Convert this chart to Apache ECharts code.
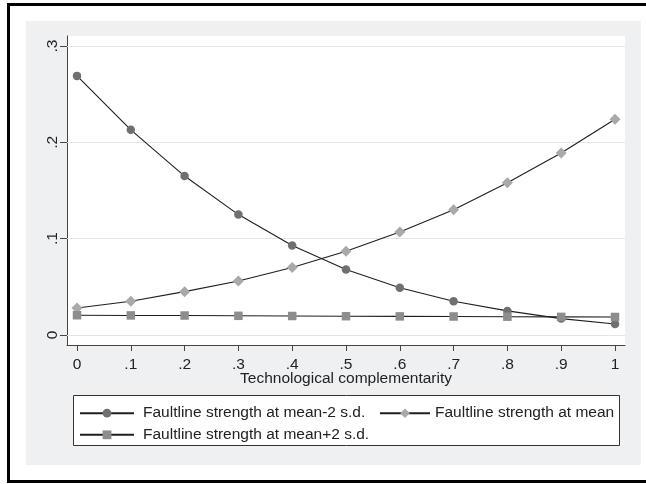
<!DOCTYPE html>
<html>
<head>
<meta charset="utf-8">
<script src="https://cdn.jsdelivr.net/npm/echarts@6/dist/echarts.min.js"></script>
<style>
html,body{margin:0;padding:0;background:#fff;}
#c{width:646px;height:484px;}
</style>
</head>
<body>
<div id="c"></div>
<script>
// ---- data ----
var xValues = [0, 0.1, 0.2, 0.3, 0.4, 0.5, 0.6, 0.7, 0.8, 0.9, 1];
var lowValues  = [0.269, 0.213, 0.165, 0.125, 0.093, 0.068, 0.049, 0.035, 0.025, 0.017, 0.0114];
var meanValues = [0.028, 0.035, 0.045, 0.056, 0.070, 0.087, 0.107, 0.130, 0.158, 0.189, 0.224];
var highValues = [0.0205, 0.0203, 0.0202, 0.0199, 0.0197, 0.0195, 0.0193, 0.0192, 0.0190, 0.0188, 0.0187];
var xTicks = [0, 0.1, 0.2, 0.3, 0.4, 0.5, 0.6, 0.7, 0.8, 0.9, 1];
var xTickLabels = ['0', '.1', '.2', '.3', '.4', '.5', '.6', '.7', '.8', '.9', '1'];
var yTicks = [0, 0.1, 0.2, 0.3];
var yTickLabels = ['0', '.1', '.2', '.3'];
var seriesNames = ['Faultline strength at mean-2 s.d.', 'Faultline strength at mean', 'Faultline strength at mean+2 s.d.'];
var xTitle = 'Technological complementarity';

function pairs(ys) { return xValues.map(function (x, i) { return [x, ys[i]]; }); }
function lab(ticks, labels) { return function (v) { for (var i = 0; i < ticks.length; i++) { if (Math.abs(ticks[i] - v) < 1e-9) return labels[i]; } return ''; }; }

var FONT = 'Liberation Sans';
var FS = 15.5;
var lineCol = '#1e1e1e';

var chart = echarts.init(document.getElementById('c'), null, {renderer: 'canvas'});
chart.setOption({
  animation: false,
  backgroundColor: '#ffffff',
  textStyle: {fontFamily: FONT},
  graphic: [
    {type: 'rect', z: -100, silent: true, shape: {x: 26, y: 21, width: 615, height: 444}, style: {fill: '#eff0f2'}},
    {type: 'rect', z: -50, silent: true, shape: {x: 8.5, y: 4.5, width: 660, height: 477}, style: {fill: null, stroke: '#000', lineWidth: 3}},
    {type: 'rect', z: 1, silent: true, shape: {x: 73.5, y: 395.5, width: 546, height: 50}, style: {fill: '#fff', stroke: '#333', lineWidth: 1}}
  ],
  grid: {left: 67, top: 36, width: 558, height: 309, show: true, backgroundColor: '#fff', borderWidth: 0, containLabel: false, outerBoundsMode: 'none'},
  xAxis: {
    type: 'value', min: -0.0186, max: 1.0186,
    name: xTitle, nameLocation: 'middle', nameGap: 25.5, nameMoveOverlap: false,
    nameTextStyle: {fontFamily: FONT, fontSize: FS, color: '#222'},
    axisLine: {show: true, onZero: false, lineStyle: {color: '#444', width: 1}},
    axisTick: {show: true, customValues: xTicks, length: 6, lineStyle: {color: '#444'}},
    axisLabel: {show: true, customValues: xTicks, formatter: lab(xTicks, xTickLabels), margin: 12, fontFamily: FONT, fontSize: FS, color: '#222', showMinLabel: true, showMaxLabel: true},
    splitLine: {show: false}
  },
  yAxis: {
    type: 'value', min: -0.0104, max: 0.3104,
    axisLine: {show: true, onZero: false, lineStyle: {color: '#444', width: 1}},
    axisTick: {show: true, customValues: yTicks, length: 7, lineStyle: {color: '#444'}},
    axisLabel: {show: true, customValues: yTicks, formatter: lab(yTicks, yTickLabels), rotate: 90, margin: 6, fontFamily: FONT, fontSize: FS, color: '#222', showMinLabel: true, showMaxLabel: true},
    splitLine: {show: false}
  },
  legend: [
    {data: [seriesNames[0]], left: 79, top: 405.2, padding: 0, itemWidth: 54, itemHeight: 11, selectedMode: false, textStyle: {fontFamily: FONT, fontSize: FS, color: '#222', padding: [0, 0, 0, 4]}, z: 5},
    {data: [seriesNames[1]], left: 379, top: 405.2, padding: 0, itemWidth: 50, itemHeight: 12, selectedMode: false, textStyle: {fontFamily: FONT, fontSize: FS, color: '#222'}, z: 5},
    {data: [seriesNames[2]], left: 79, top: 426.8, padding: 0, itemWidth: 54, itemHeight: 11, selectedMode: false, textStyle: {fontFamily: FONT, fontSize: FS, color: '#222', padding: [0, 0, 0, 4]}, z: 5}
  ],
  series: [
    {
      name: 'grid', type: 'line', data: [], z: 1, silent: true,
      markLine: {silent: true, z: 1, symbol: ['none', 'none'], label: {show: false}, emphasis: {disabled: true}, lineStyle: {color: '#e4e4e4', width: 1, type: 'solid'},
        data: yTicks.map(function (v) { return {yAxis: v}; })}
    },
    {
      name: seriesNames[0], type: 'line', data: pairs(lowValues), z: 3,
      symbol: 'circle', symbolSize: 8.5, showAllSymbol: true,
      lineStyle: {color: lineCol, width: 1.1},
      itemStyle: {color: '#707073', borderWidth: 0}
    },
    {
      name: seriesNames[1], type: 'line', data: pairs(meanValues), z: 3,
      symbol: 'diamond', symbolSize: 11, showAllSymbol: true,
      lineStyle: {color: lineCol, width: 1.1},
      itemStyle: {color: '#a9a9ab', borderWidth: 0}
    },
    {
      name: seriesNames[2], type: 'line', data: pairs(highValues), z: 3,
      symbol: 'rect', symbolSize: 8.5, showAllSymbol: true,
      lineStyle: {color: lineCol, width: 1.1},
      itemStyle: {color: '#8d8d8f', borderWidth: 0}
    }
  ]
});
</script>
</body>
</html>
